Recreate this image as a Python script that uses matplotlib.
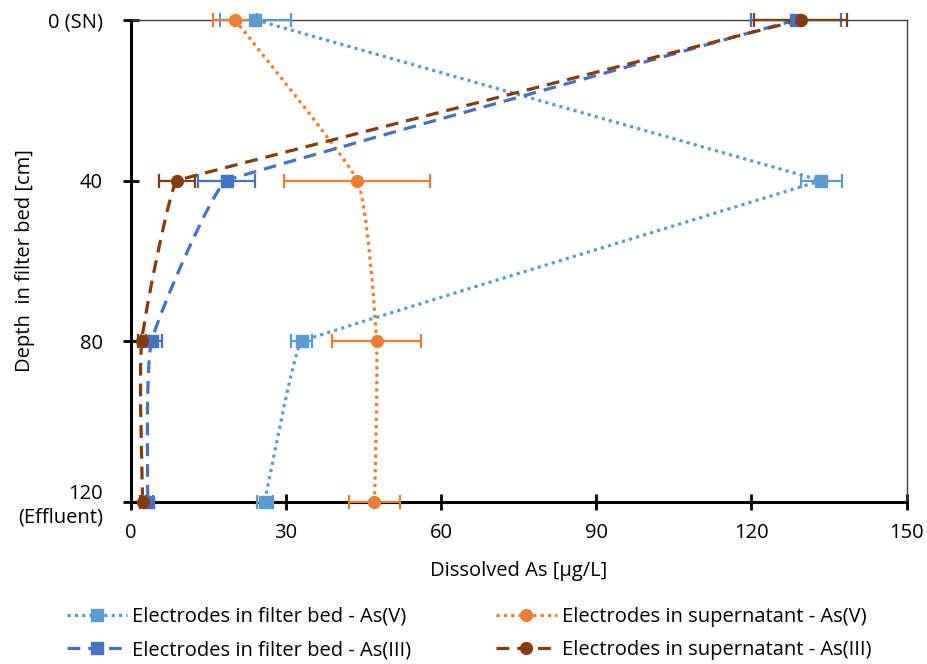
import numpy as np
import matplotlib.pyplot as plt
from matplotlib.path import Path
from matplotlib.patches import PathPatch
from matplotlib.lines import Line2D

plt.rcParams['font.family'] = ['Open Sans', 'DejaVu Sans']

depth = [0, 40, 80, 120]
depth_labels = ["0 (SN)", "40", "80", "120\n(Effluent)"]

bed_v = [24.1, 133.5, 33.0, 25.9]
bed_v_err = [6.8, 4.0, 2.0, 1.5]
sup_v = [20.1, 43.8, 47.5, 47.1]
sup_v_err = [4.3, 14.1, 8.6, 5.0]
bed_iii = [128.6, 18.5, 4.0, 3.3]
bed_iii_err = [8.7, 5.6, 2.0, 1.0]
sup_iii = [129.5, 8.9, 2.1, 2.3]
sup_iii_err = [9.0, 3.5, 0.8, 0.6]


def smooth_path(ax, xs, ys, f=0.2):
    # excel-like smoothing in pixel space; sharp turns get almost no rounding
    pts = ax.transData.transform(np.column_stack([xs, ys]))
    n = len(pts)

    def unit(v):
        return v / np.hypot(*v)

    tans = []
    for i in range(n):
        if i == 0:
            tans.append(unit(pts[1] - pts[0]) * 0)
            continue
        if i == n - 1:
            tans.append(unit(pts[i] - pts[i - 1]) * 0)
            continue
        din = pts[i] - pts[i - 1]
        dout = pts[i + 1] - pts[i]
        c = max(np.dot(unit(din), unit(dout)), 0)
        mag = f * c * c * min(np.hypot(*din), np.hypot(*dout))
        tans.append(unit(pts[i + 1] - pts[i - 1]) * mag)

    verts = [pts[0]]
    codes = [Path.MOVETO]
    for i in range(n - 1):
        verts += [pts[i] + tans[i], pts[i + 1] - tans[i + 1], pts[i + 1]]
        codes += [Path.CURVE4] * 3
    verts = ax.transData.inverted().transform(np.array(verts))
    return Path(verts, codes)


fig, ax = plt.subplots(figsize=(9.28, 6.64), dpi=100)
fig.subplots_adjust(left=0.141, right=0.977, top=0.970, bottom=0.244)
ax.set_xlim(0, 150)
ax.set_ylim(120, 0)

series = [
    (bed_v, bed_v_err, '#5B9BD5', 's', (0, (1, 1.3)), "Electrodes in filter bed - As(V)"),
    (sup_v, sup_v_err, '#ED7D31', 'o', (0, (1, 1.3)), "Electrodes in supernatant - As(V)"),
    (bed_iii, bed_iii_err, '#4472C4', 's', (0, (4, 2.5)), "Electrodes in filter bed - As(III)"),
    (sup_iii, sup_iii_err, '#843C0C', 'o', (0, (4, 2.5)), "Electrodes in supernatant - As(III)"),
]

handles = []
for vals, err, col, mk, ls, lab in series:
    patch = PathPatch(smooth_path(ax, vals, depth), facecolor='none', edgecolor=col,
                      linewidth=2.3, linestyle=ls, zorder=2)
    ax.add_patch(patch)
    eb = ax.errorbar(vals, depth, xerr=err, fmt=mk, color=col, markersize=8.5,
                     elinewidth=1.6, capsize=5, capthick=1.6, zorder=3)
    for a in eb.get_children():
        a.set_clip_on(False)
    handles.append(Line2D([], [], color=col, linestyle=ls, linewidth=2.3,
                          marker=mk, markersize=8.5, label=lab))

ax.set_xticks([0, 30, 60, 90, 120, 150])
ax.set_yticks(depth)
ax.set_yticklabels(depth_labels)
ax.tick_params(axis='both', direction='inout', length=12, width=2, labelsize=14.5, colors='black')
ax.tick_params(axis='x', pad=9)
ax.tick_params(axis='y', pad=14)
for s in ['left', 'bottom']:
    ax.spines[s].set_linewidth(2.2)
for s in ['top', 'right']:
    ax.spines[s].set_linewidth(1.0)
    ax.spines[s].set_color('#404040')

ax.set_xlabel("Dissolved As [µg/L]", fontsize=14.5, labelpad=13)
ax.set_ylabel("Depth  in filter bed [cm]", fontsize=14.5)
ax.yaxis.set_label_coords(-0.124, 0.5)

fig.legend(handles=handles[0:1] + handles[2:3] + handles[1:2] + handles[3:4],
           loc='lower left', bbox_to_anchor=(67 / 928, 0.006), ncol=2, frameon=False,
           fontsize=14.5, handlelength=3.0, handletextpad=0.25, columnspacing=4.2,
           labelspacing=0.65, borderpad=0, borderaxespad=0)

fig.savefig("out.png", dpi=100)
